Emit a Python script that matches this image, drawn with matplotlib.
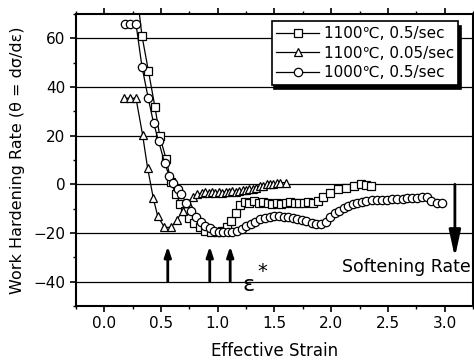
import numpy as np
import matplotlib
matplotlib.use('Agg')
from matplotlib import pyplot as plt
from matplotlib.ticker import MultipleLocator

plt.rcParams['font.family'] = ['DejaVu Sans']

# 1100 C, 0.5/sec
sq_x = [0.30, 0.333, 0.39, 0.447, 0.49, 0.544, 0.59, 0.63, 0.67, 0.71, 0.75, 0.79,
        0.84, 0.89, 0.94, 0.99, 1.04, 1.08, 1.12, 1.16, 1.20, 1.24, 1.28, 1.32,
        1.36, 1.40, 1.44, 1.48, 1.52, 1.56, 1.60, 1.64, 1.68, 1.72, 1.76, 1.80,
        1.84, 1.88, 1.93, 1.99, 2.06, 2.13, 2.20, 2.26, 2.31, 2.35]
sq_y = [74, 61, 46.5, 31.8, 19.7, 10.6, 0.8, -4, -8, -11, -14, -16,
        -17.7, -19, -19.7, -19.5, -19, -17.5, -15, -12, -8.5, -7.2, -7.5, -7,
        -7.5, -7.2, -7.5, -8, -7.8, -8.2, -7.5, -7.2, -7.5, -7.8, -7.5, -7.2,
        -7.5, -7, -5.4, -3.4, -2, -1.4, -0.7, 0, -0.2, -0.7]

# 1100 C, 0.05/sec
tri_x = [0.177, 0.227, 0.28, 0.338, 0.382, 0.433, 0.47, 0.53, 0.589, 0.64, 0.69,
         0.735, 0.78, 0.82, 0.86, 0.89, 0.92, 0.95, 0.98, 1.01, 1.04, 1.07, 1.10,
         1.13, 1.16, 1.19, 1.22, 1.25, 1.28, 1.31, 1.34, 1.37, 1.40, 1.43, 1.46,
         1.49, 1.52, 1.55, 1.60]
tri_y = [35.4, 35.4, 35.4, 20.4, 6.8, -5.8, -12.9, -17.7, -17.7, -14.7, -10.9,
         -7.5, -5.4, -4.1, -3.5, -3.2, -3.4, -3, -3.4, -3.2, -3.4, -3, -3.2,
         -2.8, -3, -2.6, -2.5, -2.2, -2, -1.8, -1.4, -0.7, -0.5, 0, 0.3,
         0, 0.5, 0.7, 0.7]

# 1000 C, 0.5/sec
cir_x = [0.18, 0.23, 0.28, 0.333, 0.388, 0.435, 0.48, 0.532, 0.574, 0.61, 0.647,
         0.68, 0.72, 0.765, 0.81, 0.85, 0.89, 0.93, 0.97, 1.01, 1.05, 1.09, 1.13,
         1.17, 1.21, 1.25, 1.29, 1.33, 1.37, 1.42, 1.46, 1.50, 1.54, 1.58, 1.62,
         1.66, 1.70, 1.74, 1.78, 1.83, 1.87, 1.91, 1.95, 1.99, 2.03, 2.07, 2.11,
         2.15, 2.19, 2.23, 2.27, 2.31, 2.36, 2.40, 2.45, 2.49, 2.54, 2.58, 2.63,
         2.67, 2.71, 2.76, 2.80, 2.84, 2.88, 2.93, 2.98]
cir_y = [66, 66, 66, 48.3, 35.4, 25.2, 17.7, 8.8, 3.4, 0.7, -2,
         -4.1, -7.5, -10.9, -13.6, -15.6, -17, -18, -19, -19.5, -19.5, -19.7, -19.5,
         -19, -18.4, -17, -16.3, -15.5, -14.3, -13.8, -13.6, -13, -12.9, -13.3, -13.6,
         -14, -14.3, -14.7, -15, -15.8, -16.5, -16.3, -15.6, -13.6, -12, -10.9, -9.8,
         -8.8, -8, -7.5, -7.2, -6.8, -6.6, -6.4, -6.4, -6.4, -6.2, -6, -6,
         -5.8, -5.8, -5.6, -5.4, -5.4, -7, -7.5, -7.8]

labels = ['1100\u2103, 0.5/sec', '1100\u2103, 0.05/sec', '1000\u2103, 0.5/sec']

# critical strains (up arrows) and softening arrow
eps_star = [0.56, 0.93, 1.11]
soft_x = 3.09

fig = plt.figure(figsize=(4.74, 3.62), dpi=100)
ax = fig.add_axes([0.160, 0.155, 0.838, 0.806])

for yv in [60, 40, 20, 0, -20, -40]:
    ax.axhline(yv, color='black', lw=0.9, zorder=1)

mk = dict(color='black', lw=0.9, markerfacecolor='white', markeredgecolor='black',
          markersize=6, markeredgewidth=0.9, zorder=3)
ax.plot(sq_x, sq_y, marker='s', label=labels[0], **mk)
ax.plot(tri_x, tri_y, marker='^', label=labels[1], **mk)
ax.plot(cir_x, cir_y, marker='o', label=labels[2], **mk)

for xv in eps_star:
    ax.annotate('', xy=(xv, -25.5), xytext=(xv, -40),
                arrowprops=dict(arrowstyle='-|>,head_length=0.6,head_width=0.2',
                                color='black', lw=2, shrinkA=0, shrinkB=0), zorder=4)
ax.annotate('', xy=(soft_x, -30), xytext=(soft_x, 0),
            arrowprops=dict(arrowstyle='-|>,head_length=1.6,head_width=0.35',
                            color='black', lw=2, shrinkA=0, shrinkB=0), zorder=4)

ax.text(1.22, -41.5, '\u03b5', fontsize=16, ha='left', va='center')
ax.text(1.35, -36, '*', fontsize=14, ha='left', va='center')
ax.text(3.23, -34, 'Softening Rate', fontsize=12.5, ha='right', va='center')

ax.set_xlim(-0.25, 3.25)
ax.set_ylim(-50, 70)
ax.xaxis.set_major_locator(MultipleLocator(0.5))
ax.xaxis.set_minor_locator(MultipleLocator(0.25))
ax.yaxis.set_major_locator(MultipleLocator(20))
ax.yaxis.set_minor_locator(MultipleLocator(10))
ax.set_xticks(np.arange(0, 3.01, 0.5))
ax.set_xticklabels(['0.0', '0.5', '1.0', '1.5', '2.0', '2.5', '3.0'])
ax.tick_params(which='major', direction='out', length=4, width=1.2, labelsize=11)
ax.tick_params(which='minor', direction='out', length=2.5, width=1)
ax.tick_params(which='both', top=True, right=True)
for sp in ax.spines.values():
    sp.set_linewidth(1.5)

ax.set_xlabel('Effective Strain', fontsize=12, labelpad=8)
ax.set_ylabel('Work Hardening Rate (\u03b8 = d\u03c3/d\u03b5)', fontsize=11.5, labelpad=6)

leg = ax.legend(loc='upper right', bbox_to_anchor=(0.963, 0.975), fontsize=11,
                frameon=True, fancybox=False, edgecolor='black', framealpha=1,
                shadow={'color': 'black', 'alpha': 1, 'ox': 2, 'oy': -3},
                handlelength=2.8, handletextpad=0.3, borderpad=0.3,
                labelspacing=0.3, borderaxespad=0)
leg.get_frame().set_linewidth(1.2)

plt.savefig('out.png', dpi=100)
